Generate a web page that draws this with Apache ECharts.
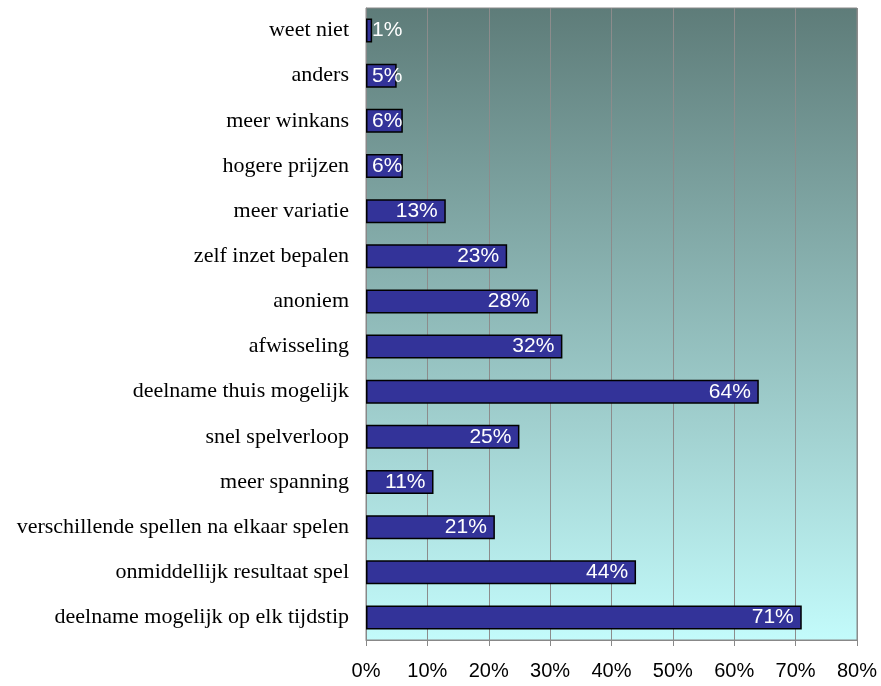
<!DOCTYPE html>
<html><head><meta charset="utf-8">
<script src="https://cdn.jsdelivr.net/npm/echarts@6/dist/echarts.min.js"></script>
<style>html,body{margin:0;padding:0;background:#fff}#c{width:881px;height:686px}</style>
</head><body><div id="c"></div>
<script>
const categories = [
  "deelname mogelijk op elk tijdstip",
  "onmiddellijk resultaat spel",
  "verschillende spellen na elkaar spelen",
  "meer spanning",
  "snel spelverloop",
  "deelname thuis mogelijk",
  "afwisseling",
  "anoniem",
  "zelf inzet bepalen",
  "meer variatie",
  "hogere prijzen",
  "meer winkans",
  "anders",
  "weet niet"
];
const values = [71, 44, 21, 11, 25, 64, 32, 28, 23, 13, 6, 6, 5, 1];
const xTicks = [0, 10, 20, 30, 40, 50, 60, 70, 80];

const chart = echarts.init(document.getElementById('c'));
chart.setOption({
  animation: false,
  grid: { left: 366, right: 24, top: 8, bottom: 46, show: true, borderColor: '#888', borderWidth: 1,
    backgroundColor: new echarts.graphic.LinearGradient(0, 0, 0, 1, [
      { offset: 0, color: '#5e7c79' }, { offset: 1, color: '#c3fbfb' }
    ]) },
  xAxis: {
    type: 'value', min: xTicks[0], max: xTicks[xTicks.length - 1], interval: 10,
    axisLine: { show: true, lineStyle: { color: '#888' } },
    axisTick: { show: true, length: 6, lineStyle: { color: '#888' } },
    axisLabel: { formatter: '{value}%', color: '#000', fontFamily: 'Liberation Sans', fontSize: 20, margin: 21 },
    splitLine: { show: true, lineStyle: { color: '#8c8c8c', width: 1 } }
  },
  yAxis: {
    type: 'category', data: categories,
    axisLine: { show: true, lineStyle: { color: '#888' } },
    axisTick: { show: false },
    axisLabel: { color: '#000', fontFamily: 'Liberation Serif', fontSize: 22, margin: 17 }
  },
  series: [{
    type: 'bar', barWidth: 24,
    data: values.map(v => ({
      value: v,
      label: v < 10 ? { position: 'insideLeft', distance: 6 } : { position: 'insideRight', distance: 8 }
    })),
    itemStyle: { color: '#333399', borderColor: '#000', borderWidth: 1.5 },
    label: { show: true, formatter: '{c}%', color: '#fff', fontFamily: 'Liberation Sans', fontSize: 21 }
  }]
});
</script></body></html>
